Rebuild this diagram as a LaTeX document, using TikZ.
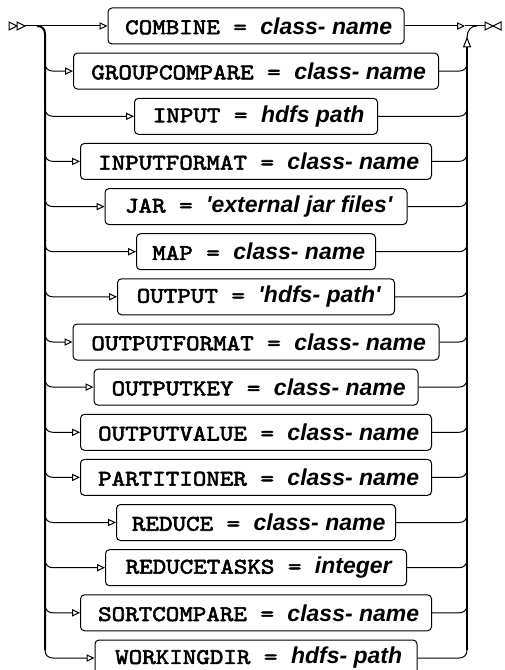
\documentclass[tikz,border=0pt]{standalone}
\usepackage{fontspec}
\newfontfamily\kwfont{lmmono10-regular.otf}[FakeStretch=1.15, FakeBold=2.6]
\newfontfamily\argfont{Liberation Sans}
\usetikzlibrary{arrows.meta}
\newcommand{\optx}[2]{\hspace*{4pt}{\kwfont\fontsize{16.8}{18}\selectfont #1~=~}{\argfont\bfseries\itshape\fontsize{17.25}{18}\selectfont #2}}
\tikzset{
  optbox/.style={draw, rounded corners=3pt, line width=0.75pt, minimum height=27pt,
    inner sep=0pt, fill=white, font=\fontsize{16.5}{18}\selectfont},
  branch/.style={line width=0.75pt},
  trunk/.style={line width=1.5pt},
  arr/.style={-{Triangle[open,length=6pt,width=5.5pt]}},
  termtri/.style={line width=0.75pt, fill=white}
}
\begin{document}
\begin{tikzpicture}[x=0.75pt,y=-0.75pt]
\useasboundingbox (0,0) rectangle (504,670);
% option boxes
\node[optbox, minimum width=222pt]    (n0)  at (256,26)    {\optx{COMBINE}{class- name}};
\node[optbox, minimum width=273.75pt] (n1)  at (256,71.1)  {\optx{GROUPCOMPARE}{class- name}};
\node[optbox, minimum width=182.25pt] (n2)  at (256,116.3) {\optx{INPUT}{hdfs path}};
\node[optbox, minimum width=263.25pt] (n3)  at (256,161.4) {\optx{INPUTFORMAT}{class- name}};
\node[optbox, minimum width=226.5pt]  (n4)  at (256,206.6) {\optx{JAR}{'external jar files'}};
\node[optbox, minimum width=179.25pt] (n5)  at (256,251.7) {\optx{MAP}{class- name}};
\node[optbox, minimum width=207.75pt] (n6)  at (256,296.8) {\optx{OUTPUT}{'hdfs- path'}};
\node[optbox, minimum width=274.5pt]  (n7)  at (256,342)   {\optx{OUTPUTFORMAT}{class- name}};
\node[optbox, minimum width=243pt]    (n8)  at (256,387.1) {\optx{OUTPUTKEY}{class- name}};
\node[optbox, minimum width=263.25pt] (n9)  at (256,432.3) {\optx{OUTPUTVALUE}{class- name}};
\node[optbox, minimum width=263.25pt] (n10) at (256,477.4) {\optx{PARTITIONER}{class- name}};
\node[optbox, minimum width=209.25pt] (n11) at (256,522.5) {\optx{REDUCE}{class- name}};
\node[optbox, minimum width=225.75pt] (n12) at (256,567.7) {\optx{REDUCETASKS}{integer}};
\node[optbox, minimum width=263.25pt] (n13) at (256,612.8) {\optx{SORTCOMPARE}{class- name}};
\node[optbox, minimum width=241.5pt]  (n14) at (256,658)   {\optx{WORKINGDIR}{hdfs- path}};
% terminals
\coordinate (start) at (25,26);
\coordinate (finish) at (485,26);
\coordinate (ltop) at (45,34);
\coordinate (lbot) at (45,650);
\coordinate (rtop) at (467,47);
\coordinate (rbot) at (467,650);
\coordinate (rjoin) at (465,26);
\draw[termtri] (9,22) -- (17,26) -- (9,30) -- cycle;
\draw[termtri] (17,22) -- (25,26) -- (17,30) -- cycle;
\draw[termtri] (485,22) -- (493,26) -- (485,30) -- cycle;
\draw[termtri] (501,22) -- (493,26) -- (501,30) -- cycle;
% main line
\draw[branch, arr] (start) -- (n0.west);
\draw[branch, arr] (n0.east) -- (rjoin);
\draw[branch] (rjoin) -- (finish);
% left trunk
\draw[trunk] (37,26) .. controls (42,26) and (45,29) .. (ltop) -- (lbot);
% right trunk
\draw[trunk] (rbot) -- (rtop);
\draw[termtri] (463.5,47) -- (467,38) -- (470.5,47) -- cycle;
\draw[branch] (467,38) .. controls (467,31) and (470,26) .. (477,26);
% branches
\foreach \n/\y in {n1/71.1, n2/116.3, n3/161.4, n4/206.6, n5/251.7, n6/296.8,
  n7/342, n8/387.1, n9/432.3, n10/477.4, n11/522.5, n12/567.7, n13/612.8, n14/658} {
  \draw[branch, arr] (45,\y-8) .. controls (45,\y-3) and (48,\y) .. (53,\y) -- (\n.west);
  \draw[branch] (\n.east) -- (459,\y) .. controls (464,\y) and (467,\y-3) .. (467,\y-8);
}
\end{tikzpicture}
\end{document}
